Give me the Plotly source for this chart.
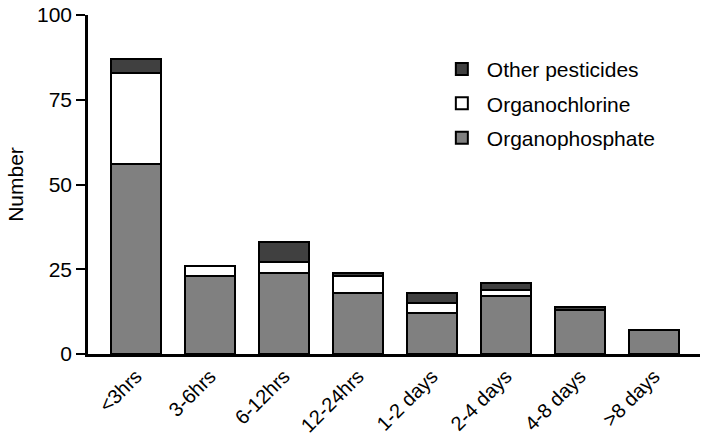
import plotly.graph_objects as go

categories = ["<3hrs", "3-6hrs", "6-12hrs", "12-24hrs", "1-2 days", "2-4 days", "4-8 days", ">8 days"]
organophosphate = [56, 23, 24, 18, 12, 17, 13, 7]
organochlorine = [27, 3, 3, 5, 3, 2, 0, 0]
other_pesticides = [4, 0, 6, 1, 3, 2, 1, 0]
y_ticks = [0, 25, 50, 75, 100]

fig = go.Figure()
series = [
    ("Organophosphate", organophosphate, "#808080", 3),
    ("Organochlorine", organochlorine, "#ffffff", 2),
    ("Other pesticides", other_pesticides, "#404040", 1),
]
for name, vals, col, rank in series:
    fig.add_trace(go.Bar(
        x=categories, y=vals, name=name, legendgroup=name, legendrank=rank,
        marker=dict(color=col, line=dict(color="black", width=2)),
        width=0.67,
    ))

fig.update_layout(
    barmode="stack",
    width=706, height=439,
    margin=dict(l=88, r=6, t=15, b=85),
    plot_bgcolor="white", paper_bgcolor="white",
    font=dict(family="Liberation Sans, Arial, sans-serif", size=20, color="black"),
    legend=dict(
        x=0.570, y=0.9, xanchor="left", yanchor="top",
        traceorder="grouped", tracegroupgap=4,
        font=dict(size=21), itemwidth=40,
        bgcolor="rgba(0,0,0,0)",
    ),
)
fig.update_xaxes(
    type="category", range=[-0.65, 7.62], automargin=False,
    showline=True, linecolor="black", linewidth=2.5,
    ticks="", tickangle=-45, tickfont=dict(size=20),
    showgrid=False, zeroline=False, ticklabeloverflow="allow",
)
fig.update_yaxes(
    range=[0, 100], tickvals=y_ticks, automargin="left",
    showline=True, linecolor="black", linewidth=2.5,
    ticks="outside", ticklen=9, tickwidth=2, tickcolor="black",
    showgrid=False, zeroline=False, ticklabeloverflow="allow",
    title=dict(text="Number", font=dict(size=21), standoff=8),
    tickfont=dict(size=21),
)
fig.write_html("out.html", config={"displayModeBar": False},
               post_script="document.body.style.margin='0';")
